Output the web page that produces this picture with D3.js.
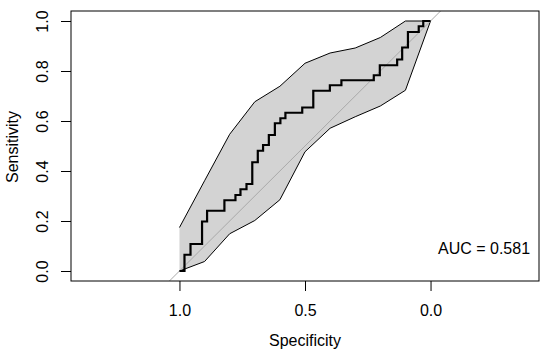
<!DOCTYPE html>
<html>
<head>
<meta charset="utf-8">
<script src="https://cdn.jsdelivr.net/npm/d3@7"></script>
<style>
  body { margin: 0; background: #fff; }
  text { font-family: "Liberation Sans", Arial, sans-serif; fill: #000; }
</style>
</head>
<body>
<svg width="550" height="356"></svg>
<script>
// ROC curve (staircase corners)
var specificity = [1.0, 0.980, 0.956, 0.910, 0.890, 0.821, 0.777, 0.757, 0.733, 0.710,
                   0.688, 0.667, 0.644, 0.620, 0.598, 0.578, 0.511, 0.467, 0.401, 0.355,
                   0.226, 0.202, 0.133, 0.113, 0.090, 0.047, 0.029, 0.0];
var sensitivity = [0.0, 0.065, 0.108, 0.198, 0.241, 0.283, 0.304, 0.327, 0.348, 0.435,
                   0.481, 0.504, 0.544, 0.591, 0.611, 0.633, 0.654, 0.721, 0.743, 0.763,
                   0.783, 0.823, 0.846, 0.894, 0.956, 0.979, 1.0, 1.0];

// confidence band of the sensitivity
var ciSpec  = [1.0, 0.9, 0.8, 0.7, 0.6, 0.5, 0.4, 0.3, 0.2, 0.1, 0.0];
var ciLower = [0.0, 0.038, 0.149, 0.202, 0.285, 0.477, 0.571, 0.617, 0.660, 0.723, 1.0];
var ciUpper = [0.174, 0.361, 0.547, 0.677, 0.739, 0.831, 0.872, 0.892, 0.934, 1.0, 1.0];

var xTicks = [1.0, 0.5, 0.0];
var yTicks = [0.0, 0.2, 0.4, 0.6, 0.8, 1.0];
var aucLabel = "AUC = 0.581";

var box = {left: 71, top: 11, right: 539, bottom: 281};
var fontSize = "16px";

var svg = d3.select("svg");

// square aspect: same px per unit on both axes
var x = d3.scaleLinear()
    .domain([1.432, -0.432])
    .range([box.left, box.right]);
var y = d3.scaleLinear()
    .domain([-0.04, 1.04])
    .range([box.bottom, box.top]);

svg.append("clipPath").attr("id", "plotclip")
  .append("rect")
    .attr("x", box.left).attr("y", box.top)
    .attr("width", box.right - box.left)
    .attr("height", box.bottom - box.top);

// CI shape
var band = ciSpec.map(function(s, i) { return [s, ciUpper[i]]; })
  .concat(ciSpec.map(function(s, i) { return [s, ciLower[i]]; }).reverse());
svg.append("path")
    .datum(band)
    .attr("d", d3.line()
        .x(function(d) { return x(d[0]); })
        .y(function(d) { return y(d[1]); }))
    .attr("fill", "#d3d3d3")
    .attr("stroke", "#000")
    .attr("stroke-width", 1);

// identity line
svg.append("line")
    .attr("clip-path", "url(#plotclip)")
    .attr("x1", x(1.5)).attr("y1", y(-0.5))
    .attr("x2", x(-0.5)).attr("y2", y(1.5))
    .attr("stroke", "#a9a9a9")
    .attr("stroke-width", 1);

// ROC curve
svg.append("path")
    .datum(specificity.map(function(s, i) { return [s, sensitivity[i]]; }))
    .attr("d", d3.line()
        .curve(d3.curveStepAfter)
        .x(function(d) { return x(d[0]); })
        .y(function(d) { return y(d[1]); }))
    .attr("fill", "none")
    .attr("stroke", "#000")
    .attr("stroke-width", 2.2);

// frame
svg.append("rect")
    .attr("x", box.left).attr("y", box.top)
    .attr("width", box.right - box.left)
    .attr("height", box.bottom - box.top)
    .attr("fill", "none")
    .attr("stroke", "#000")
    .attr("stroke-width", 1);

// axes
var xAxis = svg.append("g")
    .attr("transform", "translate(0," + box.bottom + ")")
    .call(d3.axisBottom(x).tickValues(xTicks).tickFormat(d3.format(".1f"))
        .tickSize(10).tickPadding(14));
var yAxis = svg.append("g")
    .attr("transform", "translate(" + box.left + ",0)")
    .call(d3.axisLeft(y).tickValues(yTicks).tickFormat(d3.format(".1f"))
        .tickSize(10).tickPadding(0));
[xAxis, yAxis].forEach(function(g) {
  g.select(".domain").remove();
  g.selectAll("line").attr("stroke", "#000");
  g.selectAll("text").style("font-size", fontSize)
    .style("font-family", '"Liberation Sans", Arial, sans-serif');
});
xAxis.selectAll("text").attr("dy", "0.71em");
yAxis.selectAll("text")
    .attr("x", null).attr("dy", null)
    .attr("text-anchor", "middle")
    .attr("transform", "translate(-23,0) rotate(-90)")
    .attr("y", 0);

// labels
svg.append("text")
    .attr("x", 305).attr("y", 346)
    .attr("text-anchor", "middle")
    .style("font-size", fontSize)
    .text("Specificity");
svg.append("text")
    .attr("transform", "translate(18,147) rotate(-90)")
    .attr("text-anchor", "middle")
    .style("font-size", fontSize)
    .text("Sensitivity");
svg.append("text")
    .attr("x", 484).attr("y", 254)
    .attr("text-anchor", "middle")
    .style("font-size", fontSize)
    .text(aucLabel);
</script>
</body>
</html>
